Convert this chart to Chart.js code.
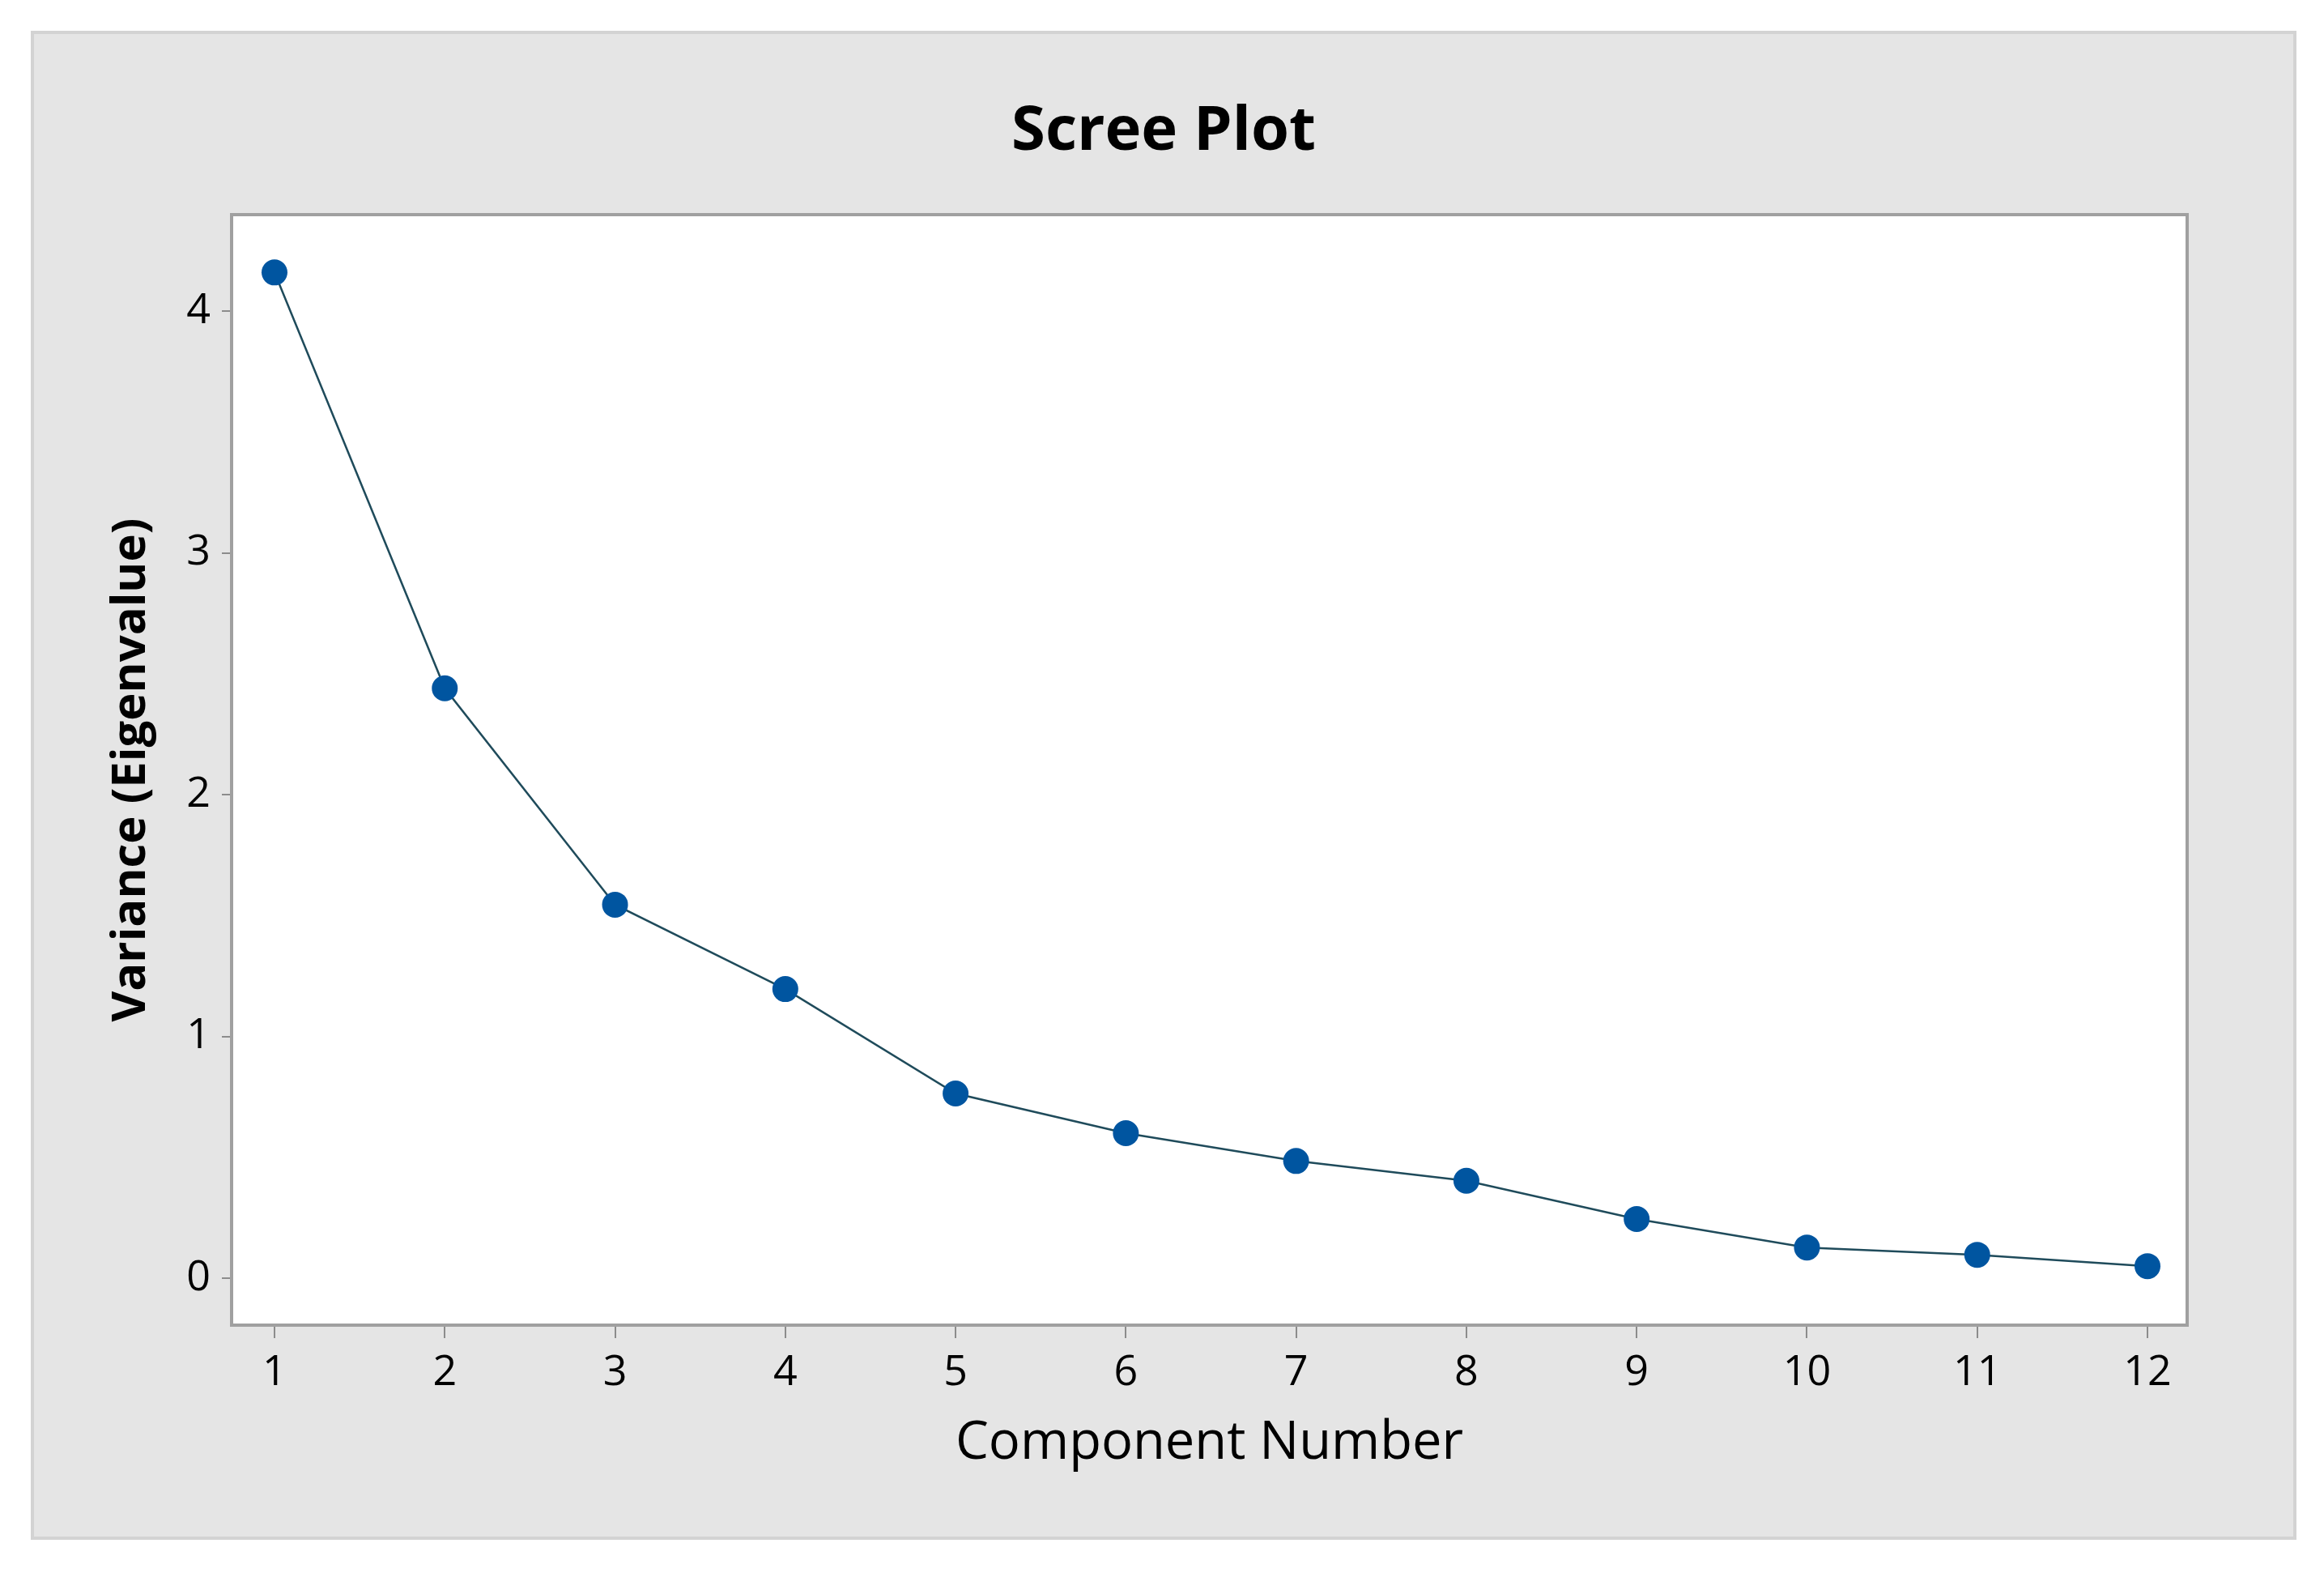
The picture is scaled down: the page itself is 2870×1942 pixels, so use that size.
<!DOCTYPE html>
<html>
<head>
<meta charset="utf-8">
<script src="https://cdn.jsdelivr.net/npm/chart.js@4.4.1/dist/chart.umd.min.js"></script>
<style>
  html, body { margin: 0; padding: 0; background: #ffffff; }
  #wrap { width: 2870px; height: 1942px; }
</style>
</head>
<body>
<div id="wrap"><canvas id="c" width="2870" height="1942"></canvas></div>
<script>
// ---- Data ----
const components = [1, 2, 3, 4, 5, 6, 7, 8, 9, 10, 11, 12];
const eigenvalues = [4.16, 2.44, 1.545, 1.196, 0.764, 0.60, 0.485, 0.403, 0.245, 0.127, 0.097, 0.05];
const xTickValues = [1, 2, 3, 4, 5, 6, 7, 8, 9, 10, 11, 12];
const yTickValues = [0, 1, 2, 3, 4];
const chartTitle = 'Scree Plot';
const xAxisTitle = 'Component Number';
const yAxisTitle = 'Variance (Eigenvalue)';

const FONT = "'Open Sans', 'Noto Sans', 'DejaVu Sans', sans-serif";

const PANEL = { left: 40, top: 40, right: 2834, bottom: 1899 };

const backgroundPlugin = {
  id: 'panelBackground',
  beforeDraw(chart) {
    const ctx = chart.ctx;
    const W = chart.width, H = chart.height;
    ctx.save();
    ctx.fillStyle = '#ffffff';
    ctx.fillRect(0, 0, W, H);
    // outer grey panel
    ctx.fillStyle = '#e5e5e5';
    ctx.fillRect(PANEL.left, PANEL.top, PANEL.right - PANEL.left, PANEL.bottom - PANEL.top);
    ctx.strokeStyle = '#d3d3d3';
    ctx.lineWidth = 4;
    ctx.strokeRect(PANEL.left, PANEL.top, PANEL.right - PANEL.left, PANEL.bottom - PANEL.top);
    // plot area
    const a = chart.chartArea;
    ctx.fillStyle = '#ffffff';
    ctx.fillRect(a.left, a.top, a.right - a.left, a.bottom - a.top);
    // title, centred on the whole panel
    ctx.fillStyle = '#000000';
    ctx.font = "bold 76px " + FONT;
    ctx.textAlign = 'center';
    ctx.textBaseline = 'middle';
    ctx.fillText(chartTitle, (PANEL.left + PANEL.right) / 2, 163);
    ctx.restore();
  },
  beforeDatasetsDraw(chart) {
    const ctx = chart.ctx;
    const a = chart.chartArea;
    ctx.save();
    ctx.strokeStyle = '#a0a0a0';
    ctx.lineWidth = 4;
    ctx.strokeRect(a.left, a.top, a.right - a.left, a.bottom - a.top);
    ctx.restore();
  }
};

new Chart(document.getElementById('c'), {
  type: 'line',
  data: {
    datasets: [{
      data: components.map((c, i) => ({ x: c, y: eigenvalues[i] })),
      borderColor: '#1f4b5b',
      borderWidth: 2.5,
      backgroundColor: '#0055a0',
      pointBackgroundColor: '#0055a0',
      pointBorderColor: '#0055a0',
      pointRadius: 16,
      pointBorderWidth: 0,
      tension: 0,
      fill: false
    }]
  },
  options: {
    responsive: false,
    animation: false,
    events: [],
    layout: { padding: { left: 40, right: 169, top: 265, bottom: 43 } },
    plugins: {
      legend: { display: false },
      tooltip: { enabled: false },
      title: { display: false }
    },
    scales: {
      x: {
        type: 'linear',
        min: 0.748,
        max: 12.233,
        afterFit(scale) { scale.height = 263; },
        afterBuildTicks(scale) { scale.ticks = xTickValues.map(v => ({ value: v })); },
        grid: { drawOnChartArea: false, drawTicks: true, tickLength: 16, color: '#8c8c8c', lineWidth: 2 },
        border: { display: false },
        ticks: {
          color: '#000000',
          padding: 12,
          maxRotation: 0,
          autoSkip: false,
          font: { family: FONT, size: 52 },
          callback: (v) => String(v)
        },
        title: {
          display: true,
          text: xAxisTitle,
          color: '#000000',
          font: { family: FONT, size: 65, lineHeight: 1.2 },
          padding: { top: 0, bottom: 78 }
        }
      },
      y: {
        type: 'linear',
        min: -0.194,
        max: 4.399,
        afterFit(scale) { scale.width = 246; },
        afterBuildTicks(scale) { scale.ticks = yTickValues.map(v => ({ value: v })); },
        grid: { drawOnChartArea: false, drawTicks: true, tickLength: 12, color: '#8c8c8c', lineWidth: 2 },
        border: { display: false },
        ticks: {
          color: '#000000',
          padding: 14,
          font: { family: FONT, size: 52 },
          callback: (v) => String(v)
        },
        title: {
          display: true,
          text: yAxisTitle,
          color: '#000000',
          font: { family: FONT, size: 58, weight: 'bold', lineHeight: 1.2 },
          padding: { top: 88, bottom: 0 }
        }
      }
    }
  },
  plugins: [backgroundPlugin]
});
</script>
</body>
</html>
